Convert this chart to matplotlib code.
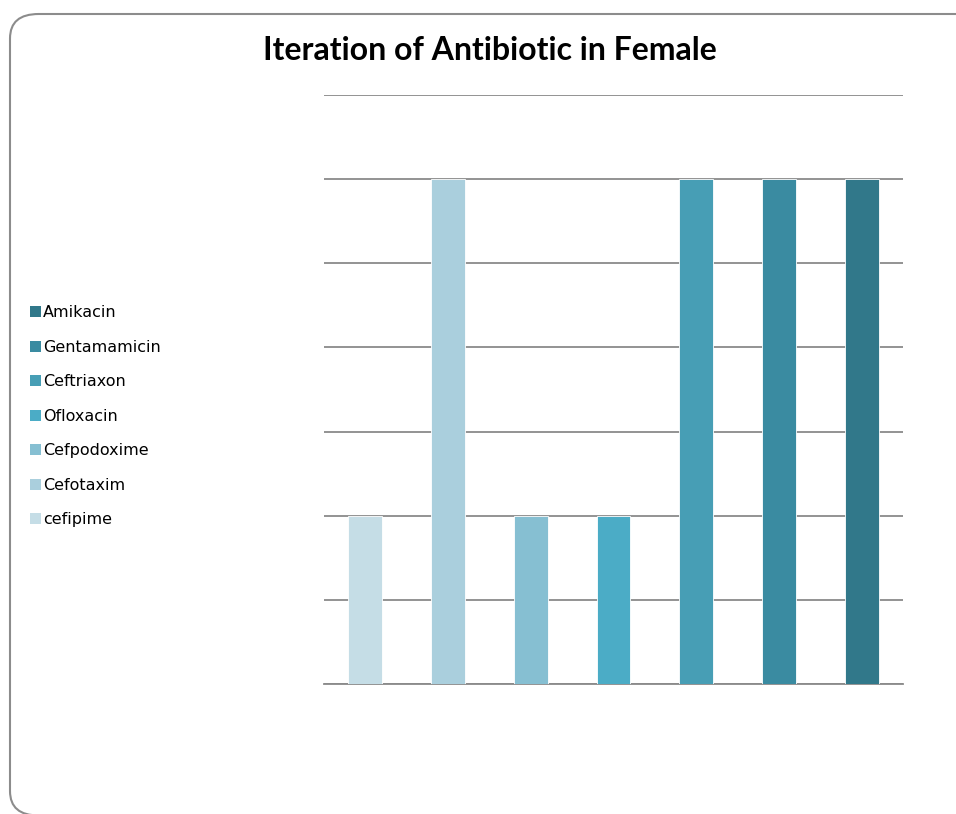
import matplotlib.pyplot as plt
from matplotlib.patches import FancyBboxPatch, Patch

# Data
drugs = ['cefipime', 'Cefotaxim', 'Cefpodoxime', 'Ofloxacin',
         'Ceftriaxon', 'Gentamamicin', 'Amikacin']
counts = [2, 6, 2, 2, 6, 6, 6]
colors = ['#C5DDE6', '#AACFDD', '#86BFD2', '#4BACC6',
          '#479EB5', '#3A8BA1', '#31788A']

W, H = 956, 814
fig = plt.figure(figsize=(W / 100, H / 100), dpi=100)
plt.rcParams['font.family'] = ['DejaVu Sans']

# rounded chart frame, running off the right and bottom edges
frame = FancyBboxPatch((10 / W, -1.5 / H), (W + 40) / W, (H - 14 + 1.5) / H,
                       boxstyle='round,pad=0,rounding_size=0.03',
                       transform=fig.transFigure, fill=False,
                       edgecolor='#8C8C8C', linewidth=1.5, clip_on=False)
fig.patches.append(frame)

ax = fig.add_axes([324 / W, 1 - 684 / H, (903 - 324) / W, (684 - 95) / H])
x = list(range(len(drugs)))
ax.bar(x, counts, width=0.41, color=colors, zorder=3,
       edgecolor='white', linewidth=0.6)
ax.set_xlim(-0.5, len(drugs) - 0.5)
ax.set_ylim(0, 7)
ax.set_yticks(range(0, 8))
ax.yaxis.grid(True, color='#8A8A8A', linewidth=1.3, zorder=1)
ax.set_xticks([])
ax.tick_params(axis='y', length=0, labelleft=False)
for s in ['top', 'right', 'left']:
    ax.spines[s].set_visible(False)
ax.spines['bottom'].set_color('#8A8A8A')
ax.spines['bottom'].set_linewidth(1.3)

fig.text(490 / W, 1 - 50 / H, 'Iteration of Antibiotic in Female',
         ha='center', va='center', fontsize=23, fontweight='bold',
         family=['Lato', 'DejaVu Sans'])

handles = [Patch(facecolor=c, edgecolor='none') for c in colors][::-1]
fig.legend(handles, drugs[::-1], loc='upper left',
           bbox_to_anchor=(16 / W, 1 - 291 / H), frameon=False,
           fontsize=11.5, handlelength=0.65, handleheight=0.65,
           handletextpad=0.12, labelspacing=1.22)

plt.savefig('out.png', dpi=100)
